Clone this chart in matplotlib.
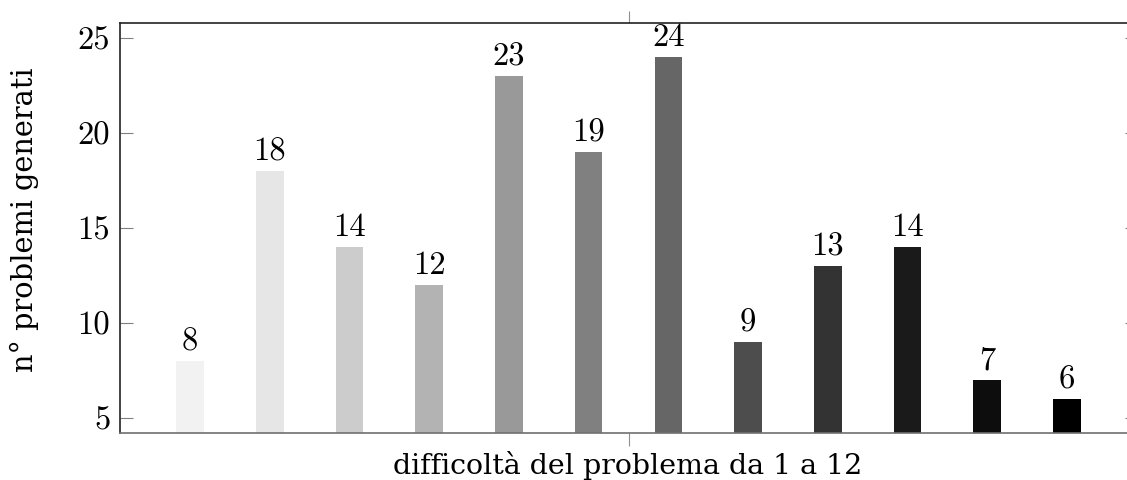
import matplotlib
matplotlib.use("Agg")
import matplotlib.pyplot as plt

# data
difficulty = [1, 2, 3, 4, 5, 6, 7, 8, 9, 10, 11, 12]
counts = [8, 18, 14, 12, 23, 19, 24, 9, 13, 14, 7, 6]
bar_colors = ["#f2f2f2", "#e6e6e6", "#cccccc", "#b3b3b3", "#999999", "#808080",
              "#666666", "#4d4d4d", "#333333", "#1a1a1a", "#0d0d0d", "#000000"]
yticks = [5, 10, 15, 20, 25]
xlabel = "difficoltà del problema da 1 a 12"
ylabel = "n° problemi generati"

fig = plt.figure(figsize=(11.27, 4.8), dpi=100)
ax = fig.add_axes([120 / 1127, 47 / 480, 1017 / 1127, 410 / 480])

ax.bar(difficulty, counts, width=0.345, color=bar_colors, bottom=0, zorder=2)
for x, v in zip(difficulty, counts):
    ax.annotate(str(v), (x, v), xytext=(0, 3.5), textcoords="offset points",
                ha="center", va="bottom", fontfamily="cmr10", fontsize=23.5)

ax.set_xlim(0.12, 12.88)
ax.set_ylim(4.21, 25.79)

ax.set_yticks(yticks)
ax.set_yticklabels([str(t) for t in yticks], fontfamily="cmr10", fontsize=23.5)
ax.tick_params(axis="y", direction="in", length=9, width=0.8, color="#808080",
               right=True, left=True, pad=7)
ax.set_xticks([6.5])
ax.set_xticklabels([""])
ax.tick_params(axis="x", direction="out", length=9, width=0.8, color="#909090",
               top=True, bottom=True)

for s in ["left", "top"]:
    ax.spines[s].set_color("#222222")
    ax.spines[s].set_linewidth(1.2)
ax.spines["right"].set_visible(False)
ax.spines["bottom"].set_color("#707070")
ax.spines["bottom"].set_linewidth(1.2)

ax.set_xlabel(xlabel, fontfamily="DejaVu Serif", fontsize=20.5)
ax.xaxis.set_label_coords((628 - 120) / 1017, -0.045)
ax.xaxis.label.set_va("top")
ax.set_ylabel(ylabel, fontfamily="DejaVu Serif", fontsize=20.8)
ax.yaxis.set_label_coords(-0.08, 0.52)

fig.savefig("out.png", dpi=100)
